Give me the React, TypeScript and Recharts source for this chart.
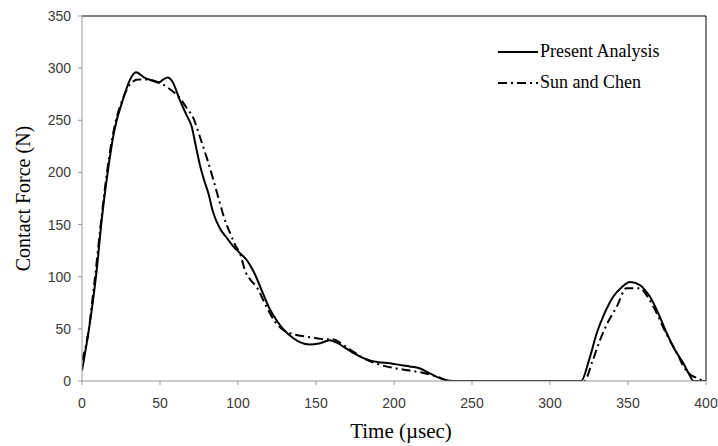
import React from "react";
import { LineChart, Line, XAxis, YAxis, ReferenceLine } from "recharts";

const presentTime = [0, 5, 9.4, 12.6, 16, 20.7, 26.5, 30.8, 34.6, 40, 45, 49, 52, 55, 58, 62.8, 67, 70.3, 73, 75.6, 78, 81, 84, 88.5, 93, 97, 101, 105.6, 110, 116, 120, 124.8, 130, 135.5, 140, 146, 152, 158.9, 163, 167.5, 175, 180.3, 190, 197.4, 205, 210, 216.7, 222, 227.4, 233, 238, 250, 300, 320, 325, 330, 335, 340.6, 346, 351.3, 357.7, 361, 364, 370, 374.8, 380, 385.5, 389, 392, 400];
const presentForce = [10, 55, 106, 154, 195, 240, 271, 289, 296, 291, 288, 286, 289, 291, 287, 269, 255, 244, 225, 207, 194, 180, 162, 146, 137, 129, 123, 116, 105, 84, 70, 58, 48, 41, 37, 35, 36, 39, 37, 33, 26, 22, 18, 17, 15, 14, 12, 8, 4, 1, 0, 0, 0, 0, 20, 46, 65, 81, 90, 95, 92, 87, 81, 63, 46, 30, 17, 7, 0, 0];

const sunTime = [0, 4, 8, 12, 16, 21, 26, 31, 36, 41.5, 48, 55.3, 62.8, 67, 71.4, 75.6, 80, 84.2, 88.5, 91, 94.9, 98, 101.3, 105, 108, 112, 118, 123.7, 129, 135, 142, 150.4, 156, 161, 166, 172, 180.3, 190, 201.7, 210, 221, 228, 236, 250, 300, 322, 327, 332, 337, 342.7, 349, 357.7, 362, 368.4, 374, 379, 382, 385.5, 390, 394, 398];
const sunForce = [20, 46, 95, 150, 200, 245, 270, 285, 289, 289, 287, 281, 271, 262, 252, 234, 214, 193, 170, 157, 142, 131, 122, 104, 97, 90, 72, 57, 49, 45, 43, 41, 40, 40, 36, 30, 22, 16, 12, 10, 7, 4, 0, 0, 0, 0, 18, 39, 56, 71, 89, 89, 82, 65, 47, 33, 25, 14, 6, 3, 0];

const xTicks = [0, 50, 100, 150, 200, 250, 300, 350, 400];
const yTicks = [0, 50, 100, 150, 200, 250, 300, 350];

const seriesNames = ["Present Analysis", "Sun and Chen"];

const presentData = presentTime.map((t, i) => ({ time: t, force: presentForce[i] }));
const sunData = sunTime.map((t, i) => ({ time: t, force: sunForce[i] }));

const DASH = "9 4 2 4";
const SERIF = "'Liberation Serif', 'Times New Roman', serif";

const LegendBox = () => (
  <div style={{ position: "absolute", left: 497, top: 36, fontFamily: SERIF, fontSize: 18, color: "#000" }}>
    {[0, 1].map((i) => (
      <div key={i} style={{ display: "flex", alignItems: "center", height: 31 }}>
        <svg width={43} height={10} style={{ display: "block" }}>
          <line x1={1} y1={5} x2={41} y2={5} stroke="#000" strokeWidth={2} strokeDasharray={i === 1 ? DASH : undefined} />
        </svg>
        <span>{seriesNames[i]}</span>
      </div>
    ))}
  </div>
);

export default function App() {
  const tickStyle = { fontFamily: "'Liberation Sans', Arial, sans-serif", fontSize: 14, fill: "#3a3a3a" };
  return (
    <div style={{ position: "absolute", left: 0, top: 0, width: 718, height: 446 }}>
      <LineChart width={718} height={446} margin={{ top: 16, right: 12, bottom: 0, left: 0 }}>
        <XAxis
          dataKey="time"
          type="number"
          domain={[0, 400]}
          ticks={xTicks}
          allowDataOverflow
          height={65}
          stroke="#999"
          tickSize={4}
          tickMargin={13}
          tick={tickStyle}
          label={{
            value: "Time (\u00b5sec)",
            position: "insideBottom",
            offset: 8,
            dx: 7,
            style: { fontFamily: SERIF, fontSize: 21, fill: "#000" },
          }}
        />
        <YAxis
          type="number"
          domain={[0, 350]}
          ticks={yTicks}
          allowDataOverflow
          width={82}
          stroke="#999"
          tickSize={4}
          tickMargin={7}
          tick={tickStyle}
          label={{
            content: (props: any) => {
              const vb = props.viewBox || { x: 0, y: 16, width: 82, height: 365 };
              const cy = vb.y + vb.height / 2;
              return (
                <text
                  x={23}
                  y={cy}
                  transform={`rotate(-90 23 ${cy})`}
                  textAnchor="middle"
                  dominantBaseline="central"
                  style={{ fontFamily: SERIF, fontSize: 20, fill: "#000" }}
                >
                  Contact Force (N)
                </text>
              );
            },
          }}
        />
        <ReferenceLine y={350} stroke="#000" strokeWidth={1} />
        <ReferenceLine x={400} stroke="#000" strokeWidth={1} />
        <Line
          data={sunData}
          dataKey="force"
          name={seriesNames[1]}
          type="monotone"
          dot={false}
          stroke="#000"
          strokeWidth={2}
          strokeDasharray={DASH}
          isAnimationActive={false}
        />
        <Line
          data={presentData}
          dataKey="force"
          name={seriesNames[0]}
          type="monotone"
          dot={false}
          stroke="#000"
          strokeWidth={2}
          isAnimationActive={false}
        />
      </LineChart>
      <LegendBox />
    </div>
  );
}
